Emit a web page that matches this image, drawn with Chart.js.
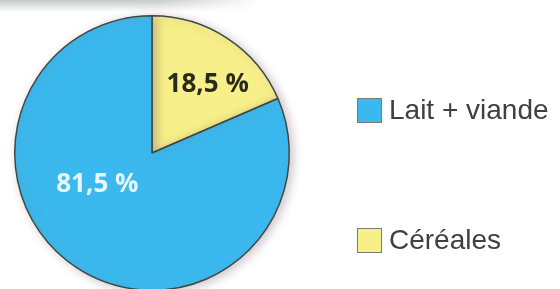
<!DOCTYPE html>
<html>
<head>
<meta charset="utf-8">
<script src="https://cdn.jsdelivr.net/npm/chart.js@4"></script>
<style>
  html, body { margin:0; padding:0; width:560px; height:289px; overflow:hidden; background:#fff; }
  #wrap { position:relative; width:560px; height:289px; }
  #topShade { position:absolute; left:0; top:0; width:260px; height:12px;
    background:linear-gradient(to bottom, rgba(150,160,150,0.55), rgba(255,255,255,0));
    -webkit-mask-image:linear-gradient(to right, #000 60%, transparent 100%);
    mask-image:linear-gradient(to right, #000 60%, transparent 100%); }
  #chart { position:absolute; left:0; top:0; }
  .legend-item { position:absolute; left:357px; font-family:"Liberation Sans", Arial, sans-serif;
    font-size:28px; color:#404040; display:flex; align-items:center; }
  .legend-item .box { width:25px; height:25px; box-sizing:border-box; border:1.5px solid #7a7a7a; margin-right:7px; }
</style>
</head>
<body>
<div id="wrap">
  <div id="topShade"></div>
  <canvas id="chart" width="560" height="306"></canvas>
</div>
<script>
const categories = ['Céréales', 'Lait + viande'];
const shares = [18.5, 81.5];
const sliceLabels = ['18,5 %', '81,5 %'];
const colors = ['#f7ef8a', '#3bb9ee'];
const labelColors = ['#2a2a1a', '#e6f6ff'];
// legend order as in the picture
const legendOrder = [1, 0];

// label placement: angle from 12 o'clock (clockwise, degrees) and fraction of radius
const labelAngle = [39, 240];
const labelRadius = [0.645, 0.46];

const labelPlugin = {
  id: 'sliceLabels',
  afterDatasetsDraw(chart) {
    const ctx = chart.ctx;
    const meta = chart.getDatasetMeta(0);
    meta.data.forEach((arc, i) => {
      const a = labelAngle[i] * Math.PI / 180;
      const r = arc.outerRadius * labelRadius[i];
      const x = arc.x + Math.sin(a) * r;
      const y = arc.y - Math.cos(a) * r;
      ctx.save();
      ctx.font = 'bold 26px "Open Sans", "Liberation Sans", sans-serif';
      ctx.fillStyle = labelColors[i];
      ctx.textAlign = 'center';
      ctx.textBaseline = 'middle';
      ctx.fillText(sliceLabels[i], x, y);
      ctx.restore();
    });
  }
};

const shadowPlugin = {
  id: 'pieShadow',
  beforeDatasetsDraw(chart) {
    const ctx = chart.ctx;
    ctx.save();
    ctx.shadowColor = 'rgba(120,90,110,0.35)';
    ctx.shadowBlur = 10;
    ctx.shadowOffsetX = 3;
    ctx.shadowOffsetY = 2;
  },
  afterDatasetsDraw(chart) {
    chart.ctx.restore();
  }
};

new Chart(document.getElementById('chart').getContext('2d'), {
  type: 'pie',
  data: {
    labels: categories,
    datasets: [{
      data: shares,
      backgroundColor: colors,
      borderColor: '#3c4a44',
      borderWidth: 1.5
    }]
  },
  options: {
    responsive: false,
    animation: false,
    rotation: 0,
    layout: { padding: { left: 14, right: 270, top: 15, bottom: 15 } },
    plugins: { legend: { display: false }, tooltip: { enabled: false } }
  },
  plugins: [shadowPlugin, labelPlugin]
});

// html legend
const wrap = document.getElementById('wrap');
const legendTops = [94, 224];
legendOrder.forEach((idx, k) => {
  const item = document.createElement('div');
  item.className = 'legend-item';
  item.style.top = legendTops[k] + 'px';
  item.innerHTML = `<span class="box" style="background:${colors[idx]}"></span><span>${categories[idx]}</span>`;
  wrap.appendChild(item);
});
</script>
</body>
</html>
